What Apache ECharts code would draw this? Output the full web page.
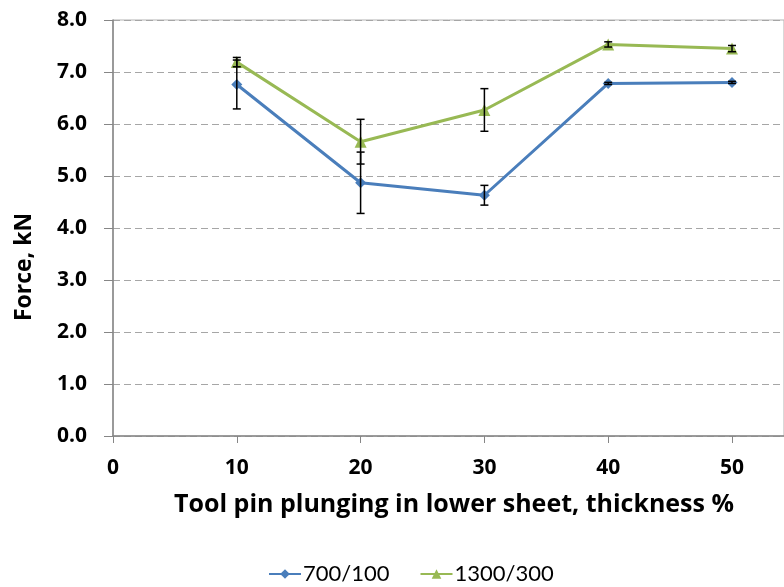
<!DOCTYPE html>
<html>
<head>
<meta charset="utf-8">
<script src="https://cdn.jsdelivr.net/npm/echarts@6/dist/echarts.min.js"></script>
<style>html,body{margin:0;padding:0;background:#fff;}#chart{width:784px;height:587px;}</style>
</head>
<body>
<div id="chart"></div>
<script>
var xValues = [10, 20, 30, 40, 50];
var force700 = [6.76, 4.87, 4.63, 6.78, 6.80];
var err700 = [0.47, 0.59, 0.19, 0.02, 0.02];
var force1300 = [7.19, 5.66, 6.27, 7.53, 7.45];
var err1300 = [0.09, 0.43, 0.41, 0.05, 0.06];
var xTicks = [0, 10, 20, 30, 40, 50];
var seriesNames = ['700/100', '1300/300'];

var FONT = 'Open Sans';
function pts(ys) { return xValues.map(function (x, i) { return [x, ys[i]]; }); }
function errData(ys, es) { return xValues.map(function (x, i) { return [x, ys[i] - es[i], ys[i] + es[i]]; }); }
function renderErr(params, api) {
  var x = api.value(0);
  var lo = api.coord([x, api.value(1)]);
  var hi = api.coord([x, api.value(2)]);
  var hw = 4;
  var st = { stroke: '#000', lineWidth: 1.5 };
  return {
    type: 'group',
    children: [
      { type: 'line', shape: { x1: lo[0], y1: lo[1], x2: hi[0], y2: hi[1] }, style: st },
      { type: 'line', shape: { x1: lo[0] - hw, y1: lo[1], x2: lo[0] + hw, y2: lo[1] }, style: st },
      { type: 'line', shape: { x1: hi[0] - hw, y1: hi[1], x2: hi[0] + hw, y2: hi[1] }, style: st }
    ]
  };
}

var chart = echarts.init(document.getElementById('chart'));
chart.setOption({
  animation: false,
  textStyle: { fontFamily: FONT },
  grid: { left: 113, top: 20, right: 0, bottom: 151, show: true, borderColor: '#b3b3b3', borderWidth: 1, outerBoundsMode: 'none', containLabel: false },
  legend: {
    left: 268, top: 563, padding: 0, itemWidth: 32, itemHeight: 12, itemGap: 30,
    textStyle: { fontFamily: 'Lato', fontSize: 22, color: '#000', padding: [0, 0, 0, -3] },
    data: seriesNames
  },
  xAxis: {
    type: 'value', min: 0, max: 54.2, interval: 10,
    name: 'Tool pin plunging in lower sheet, thickness %',
    nameLocation: 'middle', nameGap: 56,
    nameTextStyle: { fontFamily: FONT, fontSize: 25, fontWeight: 'bold', color: '#000', padding: [0, 0, 0, 11] },
    axisLine: { show: true, lineStyle: { color: '#868686', width: 1.5 } },
    axisTick: { show: true, length: 7, lineStyle: { color: '#868686' }, customValues: xTicks },
    axisLabel: { fontFamily: FONT, fontSize: 21, fontWeight: 'bold', color: '#000', margin: 22, customValues: xTicks },
    splitLine: { show: false }
  },
  yAxis: {
    type: 'value', min: 0, max: 8, interval: 1,
    name: 'Force, kN', nameLocation: 'middle', nameRotate: 90, nameGap: 77,
    nameTextStyle: { fontFamily: FONT, fontSize: 23, fontWeight: 'bold', color: '#000', padding: [0, 78, 0, 0] },
    axisLine: { show: true, lineStyle: { color: '#868686', width: 1.5 } },
    axisTick: { show: true, length: 9, lineStyle: { color: '#868686' } },
    axisLabel: { fontFamily: FONT, fontSize: 21, fontWeight: 'bold', color: '#000', margin: 26, formatter: function (v) { return v.toFixed(1); } },
    splitLine: { show: true, lineStyle: { color: '#a6a6a6', type: [7, 4], width: 1.2 } }
  },
  series: [
    {
      name: seriesNames[0], type: 'line', data: pts(force700),
      symbol: 'diamond', symbolSize: 11, lineStyle: { color: '#4a7ebb', width: 3 },
      itemStyle: { color: '#4a7ebb' }, z: 3
    },
    {
      name: seriesNames[1], type: 'line', data: pts(force1300),
      symbol: 'triangle', symbolSize: 12, lineStyle: { color: '#98b954', width: 3 },
      itemStyle: { color: '#98b954' }, z: 3
    },
    { type: 'custom', renderItem: renderErr, data: errData(force700, err700), z: 5, silent: true },
    { type: 'custom', renderItem: renderErr, data: errData(force1300, err1300), z: 5, silent: true }
  ]
});
</script>
</body>
</html>
